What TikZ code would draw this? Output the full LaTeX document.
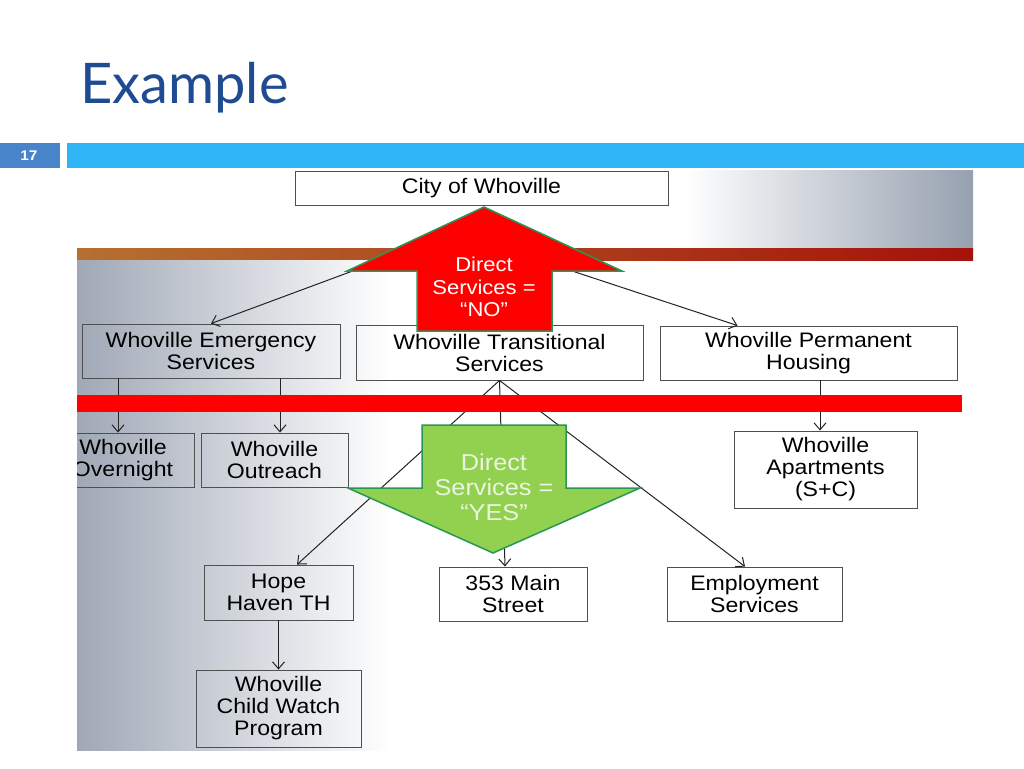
\documentclass[tikz,border=0pt]{standalone}
\usepackage{fontspec}
\setmainfont{Liberation Sans}[FakeStretch=1.1]
\newfontfamily\titlefont{Lato}
\usetikzlibrary{arrows.meta}
\definecolor{titleblue}{RGB}{30,75,145}
\definecolor{numblue}{RGB}{72,132,202}
\definecolor{bandblue}{RGB}{47,181,245}
\definecolor{bggray}{RGB}{160,168,182}
\definecolor{bgright}{RGB}{150,160,175}
\definecolor{bandbrown}{RGB}{182,112,48}
\definecolor{bandred}{RGB}{165,18,10}
\definecolor{boxgray}{RGB}{80,80,80}
\definecolor{linegray}{RGB}{35,35,35}
\definecolor{arrowred}{RGB}{255,0,0}
\definecolor{arrowgreen}{RGB}{146,208,80}
\definecolor{edgegreen}{RGB}{40,150,85}
\definecolor{palegreen}{RGB}{235,245,225}
\begin{document}
\begin{tikzpicture}[x=1pt,y=-1pt,
  box/.style={draw=boxgray, line width=0.9pt, align=center, inner sep=0pt,
    font=\fontsize{21}{22}\selectfont},
  conn/.style={draw=linegray, line width=1pt, -{Straight Barb[length=7pt,width=12pt]}},
  bigarrow/.style={line width=1.5pt, line join=miter}]
\useasboundingbox (0,0) rectangle (1024,768);
% header
\node[anchor=base west, inner sep=0pt, text=titleblue,
  font=\titlefont\fontsize{56}{56}\selectfont] (title) at (80,103) {Example};
\fill[numblue] (0,143) rectangle (60,168);
\node[text=white, font=\bfseries\fontsize{14}{14}\selectfont] (num) at (29,155.5) {17};
\fill[bandblue] (67,143) rectangle (1024,168);
% background picture
\shade[left color=white, right color=bgright] (685,170) rectangle (973,248);
\shade[left color=bandbrown, right color=bandred] (77,248) rectangle (973,260);
\shade[left color=bggray, right color=white] (77,260) rectangle (390,750);
% nodes
\node[box, minimum width=373pt, minimum height=34pt] (city) at (481.5,188) {City of Whoville};
\node[box, minimum width=258pt, minimum height=54pt] (emerg) at (211,351) {Whoville Emergency\\Services};
\node[box, minimum width=287pt, minimum height=55pt] (trans) at (499.5,352.5) {Whoville Transitional\\Services};
\node[box, minimum width=297pt, minimum height=54pt] (perm) at (808.5,353) {Whoville Permanent\\Housing};
\begin{scope}
\clip (77,0) rectangle (1024,768);
\node[box, minimum width=142pt, minimum height=54pt] (overn) at (123,460) {Whoville\\Overnight};
\end{scope}
\node[box, minimum width=147pt, minimum height=54pt] (outr) at (274.5,460) {Whoville\\Outreach};
\node[box, minimum width=183pt, minimum height=77pt] (apt) at (825.5,469.5) {Whoville\\Apartments\\(S+C)};
\node[box, minimum width=149pt, minimum height=55pt] (hope) at (278.5,592.5) {Hope\\Haven TH};
\node[box, minimum width=148pt, minimum height=54pt] (main) at (513,594) {353 Main\\Street};
\node[box, minimum width=175pt, minimum height=54pt] (empl) at (754.5,594) {Employment\\Services};
\node[box, minimum width=165pt, minimum height=77pt] (child) at (278.5,708.5) {Whoville\\Child Watch\\Program};
% connectors
\coordinate (cityL) at (420,246);
\coordinate (cityR) at (560,267);
\draw[conn] (cityL) -- (emerg.north);
\draw[conn] (cityR) -- ([xshift=-71pt]perm.north);
\draw[conn] ([xshift=-93pt]emerg.south) -- ([xshift=-5pt]overn.north);
\draw[conn] ([xshift=69pt]emerg.south) -- ([xshift=5.5pt]outr.north);
\draw[conn] ([xshift=11.5pt]perm.south) -- ([xshift=-5.5pt]apt.north);
\draw[conn] (trans.south) -- ([xshift=18.5pt]hope.north);
\draw[conn] (trans.south) -- ([xshift=-8pt]main.north);
\draw[conn] (trans.south) -- ([xshift=-9.5pt]empl.north);
\draw[conn] (hope.south) -- (child.north);
% red bar
\fill[arrowred] (77,395) rectangle (962,412);
% big arrows
\filldraw[bigarrow, fill=arrowred, draw=edgegreen]
  (484,207) -- (622,271) -- (552,271) -- (552,331) -- (417,331) -- (417,271) -- (347,271) -- cycle;
\node[align=center, text=white, inner sep=0pt, font=\fontsize{20}{22.5}\selectfont] (no) at (484,287) {Direct\\Services =\\“NO”};
\filldraw[bigarrow, fill=arrowgreen, draw=edgegreen]
  (422,425) -- (566,425) -- (566,488) -- (640,488) -- (493,553) -- (348,488) -- (422,488) -- cycle;
\node[align=center, text=palegreen, inner sep=0pt, font=\fontsize{23}{25}\selectfont] (yes) at (494,487) {Direct\\Services =\\“YES”};
\end{tikzpicture}
\end{document}
